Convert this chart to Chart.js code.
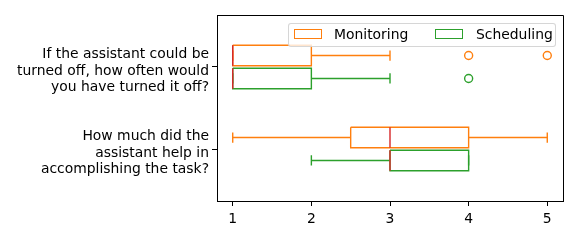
<!DOCTYPE html>
<html>
<head>
<meta charset="utf-8">
<script src="https://cdn.jsdelivr.net/npm/chart.js@4/dist/chart.umd.min.js"></script>
<style>
    body { margin: 0; background: #fff; }
    #wrap { position: relative; width: 578px; height: 240px; }
    #legend {
        position: absolute; left: 288px; top: 23px; width: 266px; height: 22px;
        border: 1px solid rgba(204, 204, 204, 0.8); border-radius: 3px;
        background: rgba(255, 255, 255, 0.8);
        font-family: "DejaVu Sans", sans-serif; font-size: 13.9px; color: #000;
    }
    #legend .swatch { position: absolute; top: 5px; width: 26px; height: 8px; border-width: 1.4px; border-style: solid; }
    #legend .label { position: absolute; top: 2px; line-height: 17px; white-space: nowrap; }
</style>
</head>
<body>
<div id="wrap">
    <canvas id="boxChart" width="578" height="240"></canvas>
    <div id="legend"></div>
</div>
<script>
const categories = [
    ['If the assistant could be', 'turned off, how often would', 'you have turned it off?'],
    ['How much did the', 'assistant help in', 'accomplishing the task?']
];
const seriesNames = ['Monitoring', 'Scheduling'];
const seriesColors = ['#ff7f0e', '#2ca02c'];
const medianColor = '#d62728';
const xTicks = [1, 2, 3, 4, 5];

// box statistics, one entry per category
const monitoringMin = [1, 1];
const monitoringQ1 = [1, 2.5];
const monitoringMedian = [1, 3];
const monitoringQ3 = [2, 4];
const monitoringMax = [3, 5];
const monitoringOutliers = [[4, 5], []];

const schedulingMin = [1, 2];
const schedulingQ1 = [1, 3];
const schedulingMedian = [1, 3];
const schedulingQ3 = [2, 4];
const schedulingMax = [3, 4];
const schedulingOutliers = [[4], []];

const series = [
    { min: monitoringMin, q1: monitoringQ1, med: monitoringMedian, q3: monitoringQ3, max: monitoringMax, out: monitoringOutliers, offset: -0.14 },
    { min: schedulingMin, q1: schedulingQ1, med: schedulingMedian, q3: schedulingQ3, max: schedulingMax, out: schedulingOutliers, offset: 0.14 }
];
const half = 0.125;

function seg(points, color, order) {
    return {
        data: points, showLine: true, borderColor: color, borderWidth: 1.4,
        pointRadius: 0, fill: false, order: order
    };
}

const datasets = [];
series.forEach((s, si) => {
    const color = seriesColors[si];
    categories.forEach((_, ci) => {
        const c = ci + 1 + s.offset;
        datasets.push(seg([
            { x: s.q1[ci], y: c - half }, { x: s.q3[ci], y: c - half },
            { x: s.q3[ci], y: c + half }, { x: s.q1[ci], y: c + half },
            { x: s.q1[ci], y: c - half }
        ], color, 2));
        datasets.push(seg([{ x: s.min[ci], y: c }, { x: s.q1[ci], y: c }], color, 2));
        datasets.push(seg([{ x: s.q3[ci], y: c }, { x: s.max[ci], y: c }], color, 2));
        datasets.push(seg([{ x: s.min[ci], y: c - half / 2 }, { x: s.min[ci], y: c + half / 2 }], color, 2));
        datasets.push(seg([{ x: s.max[ci], y: c - half / 2 }, { x: s.max[ci], y: c + half / 2 }], color, 2));
        datasets.push(seg([{ x: s.med[ci], y: c - half }, { x: s.med[ci], y: c + half }], medianColor, 1));
        if (s.out[ci].length) {
            datasets.push({
                data: s.out[ci].map(v => ({ x: v, y: c })),
                showLine: false, pointStyle: 'circle', pointRadius: 4,
                pointBorderWidth: 1.4, pointBorderColor: color,
                pointBackgroundColor: 'rgba(0,0,0,0)', order: 2
            });
        }
    });
});

const frame = {
    id: 'frame',
    afterDraw(chart) {
        const { ctx, chartArea: a } = chart;
        ctx.save();
        ctx.strokeStyle = '#000';
        ctx.lineWidth = 1;
        ctx.beginPath();
        ctx.moveTo(a.left, a.top + 0.5);
        ctx.lineTo(a.right + 0.5, a.top + 0.5);
        ctx.lineTo(a.right + 0.5, a.bottom);
        ctx.stroke();
        ctx.restore();
    }
};

const font = { family: 'DejaVu Sans', size: 13.9, lineHeight: 1.2 };

new Chart(document.getElementById('boxChart'), {
    type: 'scatter',
    data: { datasets: datasets },
    plugins: [frame],
    options: {
        responsive: false,
        animation: false,
        devicePixelRatio: 1,
        layout: { padding: { left: 0, right: 15, top: 15, bottom: 0 } },
        plugins: { legend: { display: false }, tooltip: { enabled: false } },
        scales: {
            x: {
                type: 'linear', min: 0.8, max: 5.2,
                afterBuildTicks: (scale) => { scale.ticks = xTicks.map(v => ({ value: v })); },
                afterFit: (scale) => { scale.height = 39; scale.paddingLeft = 0; scale.paddingRight = 0; },
                ticks: { font: font, color: '#000', padding: 5, maxRotation: 0 },
                grid: { display: true, drawOnChartArea: false, drawTicks: true, tickLength: 5, color: '#000' },
                border: { display: true, color: '#000', width: 1 }
            },
            y: {
                type: 'linear', reverse: true, min: 0.366, max: 2.634,
                afterBuildTicks: (scale) => { scale.ticks = categories.map((_, i) => ({ value: i + 1 })); },
                afterFit: (scale) => { scale.width = 217; scale.paddingTop = 0; scale.paddingBottom = 0; },
                ticks: { font: font, color: '#000', padding: 3, labelOffset: 4, callback: (v) => categories[v - 1] },
                grid: { display: true, drawOnChartArea: false, drawTicks: true, tickLength: 5, color: '#000' },
                border: { display: true, color: '#000', width: 1 }
            }
        }
    }
});

// legend drawn as html inside the plot area
const legend = document.getElementById('legend');
const swatchLeft = [5, 146];
const labelLeft = [45, 187];
seriesNames.forEach((name, i) => {
    const sw = document.createElement('div');
    sw.className = 'swatch';
    sw.style.left = swatchLeft[i] + 'px';
    sw.style.borderColor = seriesColors[i];
    legend.appendChild(sw);
    const lb = document.createElement('div');
    lb.className = 'label';
    lb.style.left = labelLeft[i] + 'px';
    lb.textContent = name;
    legend.appendChild(lb);
});
</script>
</body>
</html>
